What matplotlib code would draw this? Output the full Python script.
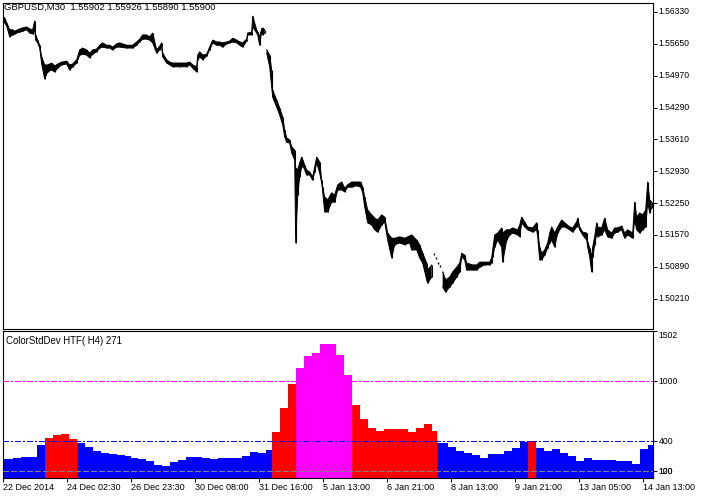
import numpy as np
import matplotlib
matplotlib.use("Agg")
import matplotlib.pyplot as plt
from matplotlib.transforms import offset_copy

plt.rcParams['font.family'] = ['Liberation Sans', 'DejaVu Sans']
plt.rcParams['lines.scale_dashes'] = False

# ---------------- data ----------------
symbol_title = "GBPUSD,M30  1.55902 1.55926 1.55890 1.55900"
indicator_title = "ColorStdDev HTF( H4) 271"

# M30 price samples: bar number, high, low (nan = gap in data)
price_bar = [0, 2, 4, 7, 10, 12, 17, 20, 24, 27, 30, 32, 33, 35, 37, 39, 42, 45, 49, 52,
             55, 59, 64, 67, 70, 74, 77, 80, 84, 87, 90, 94, 97, 100, 104, 107, 110, 114, 117, 124,
             130, 134, 137, 140, 144, 147, 150, 154, 157, 159, 160, 164, 167, 170, 177, 184, 187, 190, 194, 195,
             197, 200, 204, 207, 210, 214, 217, 220, 224, 227, 230, 234, 237, 240, 244, 245, 249, 250, 254, 255,
             257, 259, 260, 262, 263, 264, 267, 269, 270, 274, 277, 280, 282, 284, 287, 289, 292, 293, 295, 297,
             299, 300, 304, 307, 310, 312, 314, 317, 319, 320, 322, 325, 329, 332, 335, 339, 342, 345, 349, 354,
             358, 360, 362, 365, 369, 372, 375, 379, 382, 385, 389, 392, 397, 402, 407, 409, 414, 417, 420, 424,
             425, 429, 430, 440, 443, 447, 450, 454, 457, 459, 462, 464, 470, 474, 477, 482, 487, 489, 490, 492,
             495, 499, 500, 504, 507, 510, 515, 517, 519, 522, 525, 530, 534, 535, 537, 539, 542, 545, 547, 549,
             552, 555, 559, 562, 567, 570, 574, 575, 577, 580, 584, 585, 587, 589, 590, 592, 594, 595, 599, 602,
             605, 609, 612, 615, 619, 622, 625, 630, 632, 634, 637, 640, 643, 645, 647, 649]
nan = float('nan')
price_high = [1.5624, 1.5620, 1.5610, 1.5595, 1.5595, 1.5592, 1.5597, 1.5599, 1.5601, 1.5597, 1.5595, 1.5614, 1.5584, 1.5573, 1.5562, 1.5537, 1.5520, 1.5520, 1.5524, 1.5518,
              1.5522, 1.5526, 1.5528, 1.5520, 1.5522, 1.5531, 1.5552, 1.5556, 1.5552, 1.5545, 1.5552, 1.5554, 1.5562, 1.5567, 1.5562, 1.5562, 1.5558, 1.5565, 1.5567, 1.5562,
              1.5562, 1.5569, 1.5575, 1.5584, 1.5584, 1.5580, 1.5588, 1.5552, 1.5560, 1.5567, 1.5545, 1.5531, 1.5526, 1.5524, 1.5524, 1.5524, 1.5526, 1.5520, 1.5516, 1.5541,
              1.5548, 1.5541, 1.5543, 1.5558, 1.5573, 1.5569, 1.5569, 1.5567, 1.5569, 1.5571, 1.5577, 1.5573, 1.5569, 1.5567, 1.5575, 1.5588, 1.5590, 1.5624, 1.5595, 1.5590,
              1.5580, 1.5597, 1.5599, 1.5595, nan, 1.5552, 1.5541, 1.5509, 1.5466, 1.5445, 1.5428, 1.5409, 1.5381, 1.5364, 1.5360, 1.5345, 1.5338, 1.5300, 1.5296, 1.5311,
              1.5323, 1.5317, 1.5296, 1.5291, 1.5281, 1.5302, 1.5323, 1.5313, 1.5274, 1.5259, 1.5238, 1.5232, 1.5247, 1.5242, 1.5264, 1.5270, 1.5257, 1.5264, 1.5270, 1.5270,
              1.5270, 1.5259, 1.5238, 1.5210, 1.5200, 1.5193, 1.5189, 1.5200, 1.5195, 1.5161, 1.5150, 1.5150, 1.5153, 1.5150, 1.5155, 1.5157, 1.5146, 1.5136, 1.5118, 1.5097,
              1.5082, 1.5093, nan, 1.5078, 1.5061, 1.5067, 1.5078, 1.5088, 1.5097, 1.5118, 1.5114, 1.5097, 1.5093, 1.5093, 1.5099, 1.5099, 1.5099, 1.5108, 1.5125, 1.5157,
              1.5161, 1.5172, 1.5161, 1.5168, 1.5168, 1.5172, 1.5168, 1.5178, 1.5195, 1.5185, 1.5174, 1.5172, 1.5183, 1.5168, 1.5131, 1.5118, 1.5125, 1.5140, 1.5161, 1.5174,
              1.5161, 1.5174, 1.5189, 1.5183, 1.5174, 1.5172, 1.5185, 1.5193, 1.5174, 1.5163, 1.5161, 1.5142, 1.5129, 1.5110, 1.5131, 1.5153, 1.5183, 1.5174, 1.5172, 1.5193,
              1.5168, 1.5161, 1.5172, 1.5172, 1.5176, 1.5161, 1.5168, 1.5161, 1.5227, 1.5195, 1.5204, 1.5200, 1.5210, 1.5270, 1.5232, 1.5227]
price_low = [1.5616, 1.5610, 1.5603, 1.5580, 1.5584, 1.5586, 1.5590, 1.5592, 1.5595, 1.5588, 1.5586, 1.5595, 1.5573, 1.5567, 1.5556, 1.5522, 1.5490, 1.5505, 1.5509, 1.5505,
             1.5513, 1.5520, 1.5522, 1.5509, 1.5516, 1.5524, 1.5541, 1.5543, 1.5541, 1.5535, 1.5543, 1.5548, 1.5556, 1.5558, 1.5556, 1.5556, 1.5552, 1.5558, 1.5558, 1.5556,
             1.5556, 1.5562, 1.5569, 1.5575, 1.5575, 1.5573, 1.5567, 1.5545, 1.5552, 1.5560, 1.5537, 1.5524, 1.5520, 1.5516, 1.5516, 1.5516, 1.5520, 1.5513, 1.5505, 1.5531,
             1.5537, 1.5531, 1.5539, 1.5552, 1.5567, 1.5562, 1.5562, 1.5558, 1.5565, 1.5567, 1.5569, 1.5567, 1.5562, 1.5558, 1.5571, 1.5584, 1.5584, 1.5601, 1.5588, 1.5584,
             1.5562, 1.5592, 1.5584, 1.5588, nan, 1.5545, 1.5516, 1.5472, 1.5451, 1.5430, 1.5413, 1.5392, 1.5366, 1.5355, 1.5353, 1.5332, 1.5317, 1.5140, 1.5242, 1.5281,
             1.5302, 1.5306, 1.5285, 1.5285, 1.5274, 1.5291, 1.5311, 1.5289, 1.5268, 1.5249, 1.5206, 1.5206, 1.5227, 1.5227, 1.5253, 1.5253, 1.5249, 1.5259, 1.5259, 1.5262,
             1.5259, 1.5247, 1.5217, 1.5183, 1.5178, 1.5168, 1.5163, 1.5178, 1.5185, 1.5146, 1.5108, 1.5136, 1.5140, 1.5136, 1.5140, 1.5125, 1.5125, 1.5108, 1.5097, 1.5061,
             1.5054, 1.5067, nan, 1.5046, 1.5035, 1.5046, 1.5054, 1.5067, 1.5078, 1.5110, 1.5104, 1.5082, 1.5082, 1.5082, 1.5088, 1.5093, 1.5093, 1.5097, 1.5110, 1.5131,
             1.5146, 1.5131, 1.5099, 1.5146, 1.5157, 1.5161, 1.5157, 1.5153, 1.5183, 1.5174, 1.5168, 1.5163, 1.5168, 1.5153, 1.5104, 1.5104, 1.5114, 1.5129, 1.5140, 1.5146,
             1.5131, 1.5161, 1.5174, 1.5174, 1.5168, 1.5163, 1.5174, 1.5183, 1.5168, 1.5157, 1.5146, 1.5131, 1.5110, 1.5078, 1.5110, 1.5136, 1.5161, 1.5153, 1.5157, 1.5168,
             1.5153, 1.5150, 1.5161, 1.5163, 1.5168, 1.5150, 1.5157, 1.5150, 1.5189, 1.5168, 1.5161, 1.5168, 1.5174, 1.5227, 1.5204, 1.5215]
# isolated bars inside the data gap
sparse_bar = [431, 433, 435, 437]
sparse_high = [1.5118, 1.5110, 1.5099, 1.5093]
sparse_low = [1.5114, 1.5106, 1.5095, 1.5088]

price_ticks = [1.56330, 1.55650, 1.54970, 1.54290, 1.53610, 1.52930, 1.52250, 1.51570, 1.50890, 1.50210]

# H4 std-dev histogram: number of M30 bars in each H4 bar, value
h4_bars = [10, 8, 8, 8, 8, 8, 8, 8, 8, 8, 8, 8, 8, 8, 8, 6, 7, 8, 8, 8,
           8, 8, 8, 8, 8, 8, 8, 8, 8, 8, 8, 8, 8, 6, 8, 8, 8, 8, 8, 8,
           8, 8, 8, 8, 8, 8, 8, 8, 8, 8, 8, 8, 8, 8, 5, 11, 8, 8, 8, 8,
           8, 8, 8, 8, 8, 8, 8, 8, 8, 8, 8, 8, 8, 8, 8, 8, 8, 8, 8, 8,
           8, 8]
h4_value = [220, 233, 243, 243, 363, 433, 463, 473, 423, 383, 343, 303, 283, 273, 263, 253, 233, 223, 203, 163,
            153, 193, 213, 243, 243, 233, 223, 233, 233, 233, 253, 293, 283, 313, 493, 733, 976, 1133, 1253, 1283,
            1373, 1373, 1266, 1063, 763, 623, 533, 503, 523, 523, 523, 493, 533, 573, 503, 383, 343, 303, 283, 263,
            233, 273, 273, 303, 333, 393, 400, 333, 303, 323, 283, 253, 203, 233, 213, 213, 213, 203, 203, 173,
            323, 363]
level_high, level_mid, level_low = 1000, 400, 100
ind_min, ind_max = 36, 1502
scale_label_text = ["1502", "1000", "400", "100", "120"]
scale_label_value = [1502, 1000, 400, 100, 100]

date_labels = ["22 Dec 2014", "24 Dec 02:30", "26 Dec 23:30", "30 Dec 08:00", "31 Dec 16:00",
               "5 Jan 13:00", "6 Jan 21:00", "8 Jan 13:00", "9 Jan 21:00", "13 Jan 05:00", "14 Jan 13:00"]
date_bar = [0, 64, 128, 192, 256, 320, 384, 448, 512, 576, 640]

# ---------------- figure ----------------
W, H = 705, 498
fig = plt.figure(figsize=(W / 100, H / 100), dpi=100)
fig.patch.set_facecolor('white')

def px_rect(x0, y0, x1, y1):
    return [x0 / W, 1 - y1 / H, (x1 - x0) / W, (y1 - y0) / H]

ax1 = fig.add_axes(px_rect(2.7, 2.7, 653.3, 329))
ax2 = fig.add_axes(px_rect(2.7, 331, 653.3, 477.7))
n_visible = 650.6

for ax in (ax1, ax2):
    ax.set_xlim(0, n_visible)
    for s in ax.spines.values():
        s.set_linewidth(0.8)
        s.set_color('black')

# price panel
pb = np.array(price_bar, float)
ph = np.array(price_high, float)
pl = np.array(price_low, float)
ax1.fill_between(pb, pl, ph, color='black', lw=0)
ax1.plot(pb, ph, color='black', lw=0.7)
ax1.plot(pb, pl, color='black', lw=0.7)
ax1.vlines(pb, pl, ph, color='black', lw=0.8)
ax1.vlines(sparse_bar, sparse_low, sparse_high, color='black', lw=1.0)
ax1.set_ylim(1.49562, 1.56528)
ax1.set_xticks([])
ax1.yaxis.tick_right()
ax1.set_yticks(price_ticks)
ax1.tick_params(axis='y', direction='out', length=3, width=0.75, labelright=False, labelleft=False)
t1 = offset_copy(ax1.get_yaxis_transform(), fig=fig, x=5.5, y=0, units='dots')
for p in price_ticks:
    ax1.text(1.0, p, f"{p:.5f}", transform=t1, ha='left', va='center', fontsize=6.2, clip_on=False)
ax1.text(0, 1, symbol_title, transform=offset_copy(ax1.transAxes, fig=fig, x=1.0, y=-4.6, units='dots'),
         ha='left', va='center', fontsize=6.8)

# indicator panel
widths = np.array(h4_bars, float)
lefts = np.concatenate([[0.0], np.cumsum(widths)[:-1]])
vals = np.array(h4_value, float)
cols = np.where(vals >= level_high, '#ff00ff', np.where(vals >= level_mid, '#ff0000', '#0000ff'))
ax2.bar(lefts, vals, width=widths, align='edge', color=list(cols), linewidth=0, antialiased=False, zorder=2)
ax2.axhline(level_high, color='#ff00ff', lw=0.75, dashes=(4.3, 1.5, 0.8, 1.5), antialiased=False, zorder=3)
ax2.axhline(level_mid, color='#0000ff', lw=0.75, dashes=(4.3, 1.5, 0.8, 1.5), antialiased=False, zorder=3)
ax2.axhline(level_low, color='#808080', lw=0.75, dashes=(4.0, 2.0), antialiased=False, zorder=3)
ax2.set_ylim(ind_min, ind_max)
ax2.yaxis.tick_right()
ax2.set_yticks([ind_max, level_high, level_mid, level_low])
ax2.tick_params(axis='y', direction='out', length=3, width=0.75, labelright=False, labelleft=False)
t2 = offset_copy(ax2.get_yaxis_transform(), fig=fig, x=5.5, y=0, units='dots')
for txt, v in zip(scale_label_text, scale_label_value):
    ax2.text(1.0, v, txt, transform=t2, ha='left', va='top' if v == ind_max else 'center',
             fontsize=6.2, clip_on=False)
ax2.set_xticks(date_bar)
ax2.tick_params(axis='x', direction='out', length=3, width=0.75, labelbottom=False)
t3 = offset_copy(ax2.get_xaxis_transform(), fig=fig, x=0, y=-10, units='dots')
for b, lab in zip(date_bar, date_labels):
    ax2.text(b, 0, lab, transform=t3, ha='left', va='center', fontsize=6.5, clip_on=False)
ax2.text(0, 1, indicator_title, transform=offset_copy(ax2.transAxes, fig=fig, x=3.5, y=-9.7, units='dots'),
         ha='left', va='center', fontsize=6.9)

fig.savefig('out.png', dpi=100)
